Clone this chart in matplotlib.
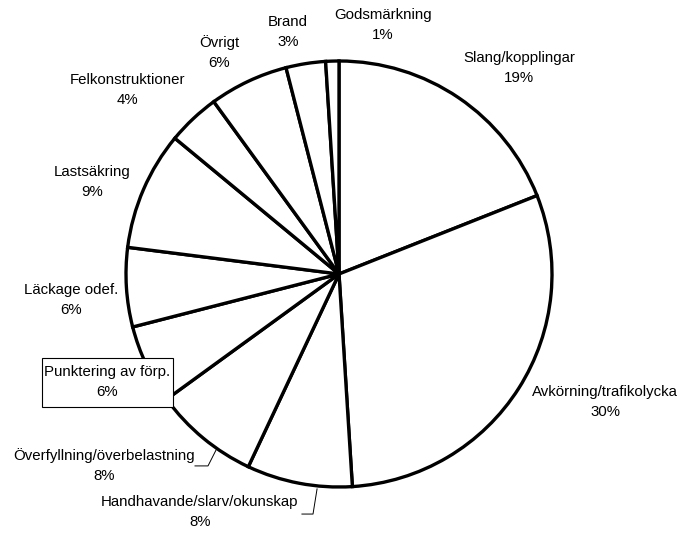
import matplotlib.pyplot as plt
from matplotlib.patches import Rectangle

plt.rcParams['font.family'] = ['Liberation Sans', 'DejaVu Sans']

categories = ['Slang/kopplingar', 'Avkörning/trafikolycka', 'Handhavande/slarv/okunskap',
              'Överfyllning/överbelastning', 'Punktering av förp.', 'Läckage odef.',
              'Lastsäkring', 'Felkonstruktioner', 'Övrigt', 'Brand', 'Godsmärkning']
shares = [19, 30, 8, 8, 6, 6, 9, 4, 6, 3, 1]

# label centres in axes data units (pie radius = 1)
label_pos = [(0.845, 0.967), (1.249, -0.601), (-0.653, -1.117), (-1.103, -0.897),
             (-1.089, -0.507), (-1.258, -0.122), (-1.160, 0.432), (-0.995, 0.864),
             (-0.563, 1.038), (-0.239, 1.136), (0.207, 1.169)]

fig = plt.figure(figsize=(6.79, 5.33), dpi=100)
ax = fig.add_axes([126 / 679, 46 / 533, 426 / 679, 426 / 533])

ax.pie(shares, startangle=90, counterclock=False, radius=1,
       colors=['white'] * len(shares),
       wedgeprops=dict(edgecolor='black', linewidth=2.4))
ax.set_xlim(-1, 1)
ax.set_ylim(-1, 1)
ax.set_aspect('equal')
ax.axis('off')

# framed label box
ax.add_patch(Rectangle((-1.394, -0.624), 0.615, 0.230, fc='white', ec='black',
                       lw=0.8, clip_on=False, zorder=3))

for name, val, (x, y) in zip(categories, shares, label_pos):
    ax.text(x, y, f'{name}\n{val}%', ha='center', va='center', fontsize=10.8,
            linespacing=1.55, clip_on=False, zorder=4)

# leader lines
ax.plot([-0.676, -0.615, -0.577], [-0.901, -0.901, -0.826], color='black', lw=0.7, clip_on=False)
ax.plot([-0.174, -0.122, -0.103], [-1.127, -1.127, -1.009], color='black', lw=0.7, clip_on=False)

fig.savefig('out.png', dpi=100)
